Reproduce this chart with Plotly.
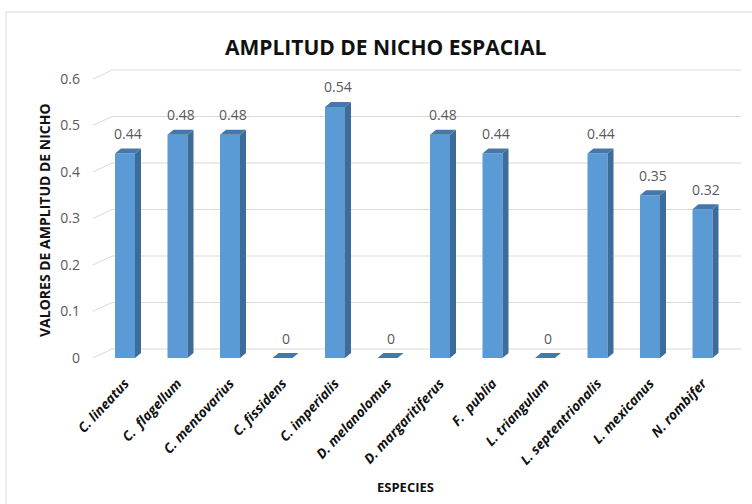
import plotly.graph_objects as go

species = ["C. lineatus", "C.  flagellum", "C. mentovarius", "C. fissidens", "C. imperialis",
           "D. melanolomus", "D. margaritiferus", "F.  publia", "L. triangulum",
           "L. septentrionalis", "L. mexicanus", "N. rombifer"]
values = [0.44, 0.48, 0.48, 0, 0.54, 0, 0.48, 0.44, 0, 0.44, 0.35, 0.32]
value_labels = ["0.44", "0.48", "0.48", "0", "0.54", "0", "0.48", "0.44", "0", "0.44", "0.35", "0.32"]
y_ticks = [0, 0.1, 0.2, 0.3, 0.4, 0.5, 0.6]
y_tick_labels = ["0", "0.1", "0.2", "0.3", "0.4", "0.5", "0.6"]

W, H = 752, 504
L, R, T, B = 93, 741, 60, 360          # plot area in pixels
XPX = 52.5                             # pixels per category
YPX = 465.0                            # pixels per unit of value
x0_px = 125                            # pixel of first category centre
xr = [-(x0_px - L) / XPX, (R - x0_px) / XPX]
yr = [-(B - 358) / YPX, 0.6 + (79 - T) / YPX]

FRONT = "#5B9BD5"
SIDE = "#3E6C9A"
TOP = "#4677AA"
GRID = "#D9D9D9"
FONT = "Open Sans"

bw = 20 / XPX
dx, dy = 6 / XPX, 5 / YPX
wall_dx, wall_dy = 19 / XPX, 9 / YPX


def px2paper_x(p):
    return (p - L) / (R - L)


def px2paper_y(p):
    return (B - p) / (B - T)


fig = go.Figure()
fig.add_trace(go.Bar(x=list(range(len(species))), y=values, width=bw,
                     marker=dict(color=FRONT, line=dict(width=0)), hoverinfo="skip"))

shapes = []
# back-wall gridlines with floor diagonal
for t in y_ticks:
    shapes.append(dict(type="path", xref="x", yref="y", layer="below",
                       path=f"M {xr[0]},{t} L {xr[0] + wall_dx},{t + wall_dy} L {xr[1]},{t + wall_dy}",
                       line=dict(color=GRID, width=1)))
# 3D faces
for i, v in enumerate(values):
    xl, xrr = i - bw / 2, i + bw / 2
    if v > 0:
        shapes.append(dict(type="path", xref="x", yref="y", layer="above",
                           path=f"M {xrr},0 L {xrr},{v} L {xrr + dx},{v + dy} L {xrr + dx},{dy} Z",
                           fillcolor=SIDE, line=dict(width=0)))
    shapes.append(dict(type="path", xref="x", yref="y", layer="above",
                       path=f"M {xl},{v} L {xrr},{v} L {xrr + dx},{v + dy} L {xl + dx},{v + dy} Z",
                       fillcolor=TOP, line=dict(width=0)))
# outer chart border
shapes.append(dict(type="rect", xref="paper", yref="paper",
                   x0=px2paper_x(6), x1=px2paper_x(760), y0=px2paper_y(510), y1=px2paper_y(12),
                   line=dict(color="#D9D9D9", width=1), fillcolor="rgba(0,0,0,0)", layer="below"))

annotations = []
for i, (v, lab) in enumerate(zip(values, value_labels)):
    annotations.append(dict(x=i + dx / 2, y=v, xref="x", yref="y", text=lab, showarrow=False,
                            xanchor="center", yanchor="middle",
                            yshift=20, font=dict(family=FONT, size=14, color="#595959")))
annotations.append(dict(x=px2paper_x(386), y=px2paper_y(47), xref="paper", yref="paper",
                        xanchor="center", yanchor="middle",
                        text="AMPLITUD DE NICHO ESPACIAL", showarrow=False,
                        font=dict(family=FONT, size=21, color="#111111", weight="bold")))
annotations.append(dict(x=px2paper_x(44), y=px2paper_y(220), xref="paper", yref="paper",
                        xanchor="center", yanchor="middle",
                        text="VALORES DE AMPLITUD DE NICHO", showarrow=False, textangle=-90,
                        font=dict(family=FONT, size=14, color="#111111", weight="bold")))
annotations.append(dict(x=px2paper_x(405), y=px2paper_y(487), xref="paper", yref="paper",
                        xanchor="center", yanchor="middle",
                        text="ESPECIES", showarrow=False,
                        font=dict(family=FONT, size=13, color="#111111", weight="bold")))

fig.update_layout(
    width=W, height=H, margin=dict(l=L, r=W - R, t=T, b=H - B),
    paper_bgcolor="white", plot_bgcolor="white", showlegend=False,
    shapes=shapes, annotations=annotations,
    xaxis=dict(range=xr, tickmode="array", tickvals=list(range(len(species))), ticktext=species,
               tickangle=-47, showgrid=False, zeroline=False, showline=False, ticks="",
               ticklabelstandoff=12,
               tickfont=dict(family=FONT, size=13.5, color="#111111", weight="bold", style="italic")),
    yaxis=dict(range=yr, tickmode="array", tickvals=y_ticks, ticktext=y_tick_labels,
               showgrid=False, zeroline=False, showline=False, ticks="", ticklabelstandoff=12,
               tickfont=dict(family=FONT, size=14, color="#595959")),
)

fig.write_html("out.html")
